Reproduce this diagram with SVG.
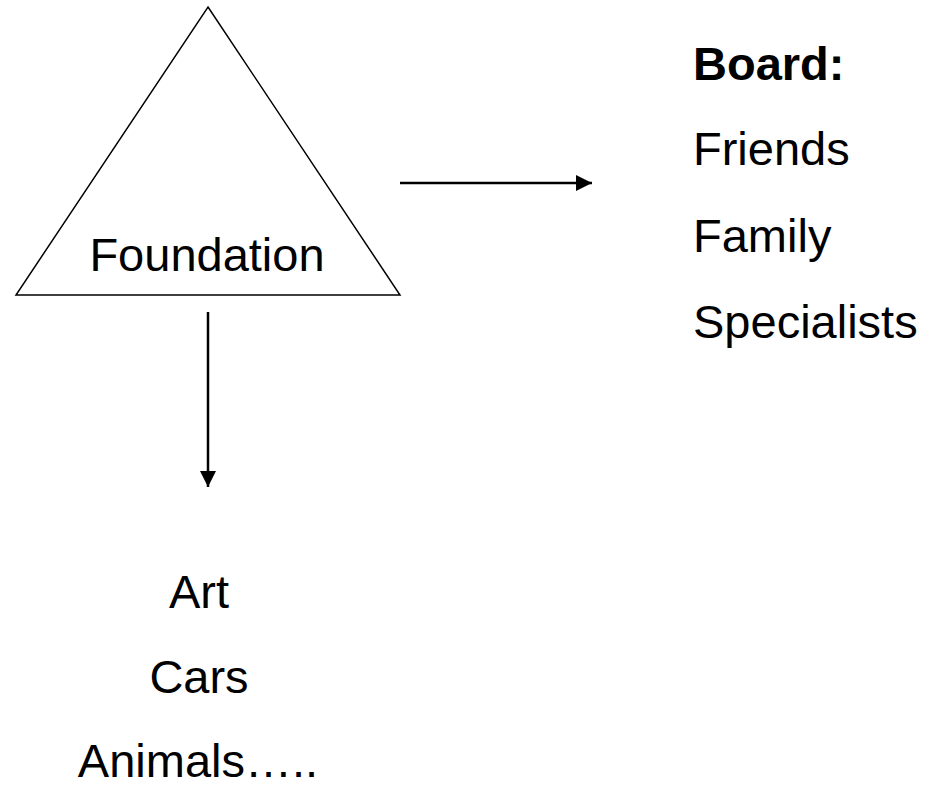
<svg xmlns="http://www.w3.org/2000/svg" width="928" height="788" viewBox="0 0 928 788">
<style>
text{font-family:"Liberation Sans",Arial,sans-serif;font-size:47px;fill:#000}
.b{font-weight:bold}
.c{text-anchor:middle}
.conn{stroke:#000;stroke-width:2.5;fill:none}
</style>
<defs>
<marker id="ah" markerWidth="16" markerHeight="16" viewBox="0 0 16 16" refX="16" refY="8" orient="auto" markerUnits="userSpaceOnUse">
<path d="M0,0 L16,8 L0,16 Z" fill="#000"/>
</marker>
</defs>
<rect width="928" height="788" fill="#fff"/>
<g id="foundation">
<polygon points="208,7 400,295 16,295" fill="#fff" stroke="#000" stroke-width="1.5"/>
<text x="207" y="271" class="c">Foundation</text>
</g>
<g id="board">
<text x="693" y="80" class="b">Board:</text>
<text x="693" y="165">Friends</text>
<text x="693" y="252">Family</text>
<text x="693" y="338">Specialists</text>
</g>
<g id="categories">
<text x="199" y="608" class="c">Art</text>
<text x="199" y="693" class="c">Cars</text>
<text x="198" y="777" class="c">Animals…..</text>
</g>
<g id="connectors">
<line class="conn" x1="400" y1="183" x2="592" y2="183" marker-end="url(#ah)"/>
<line class="conn" x1="208" y1="312" x2="208" y2="487" marker-end="url(#ah)"/>
</g>
</svg>
